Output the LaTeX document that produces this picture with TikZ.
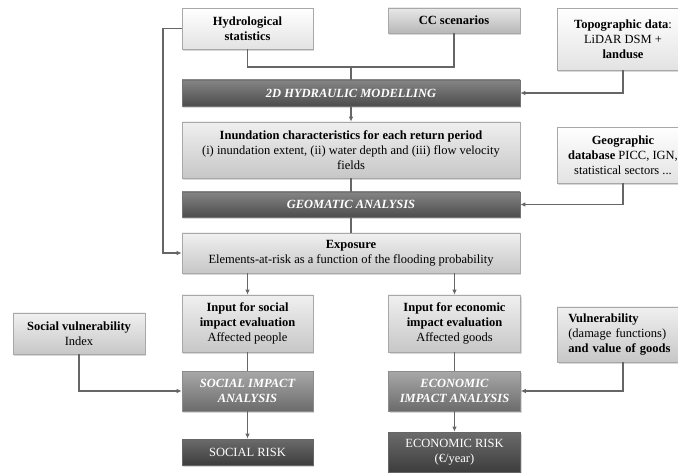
\documentclass[tikz,border=0pt]{standalone}
\usepackage{fontspec}
\setmainfont{Liberation Serif}
\usetikzlibrary{shadows,arrows.meta}
\definecolor{linec}{HTML}{666666}
\definecolor{bord}{HTML}{A8A8A8}
\begin{document}
\begin{tikzpicture}[x=1pt,y=-1pt,
  base/.style={draw=bord, line width=0.6pt, inner sep=2pt, align=center,
    font=\fontsize{12.5}{15}\selectfont,
    drop shadow={shadow xshift=1.2pt, shadow yshift=-1.6pt, opacity=0.3}},
  lightbox/.style={base, top color=white, bottom color=black!11},
  midbox/.style={base, top color=black!6, bottom color=black!22},
  ccbox/.style={base, top color=black!9, bottom color=black!28},
  darkbox/.style={base, draw=black!55, top color=black!48, bottom color=black!70, text=white, font=\fontsize{12.5}{15}\selectfont\bfseries\itshape},
  impbox/.style={base, draw=black!45, top color=black!34, bottom color=black!58, text=white, font=\fontsize{12.5}{15}\selectfont\bfseries\itshape},
  riskbox/.style={base, draw=black!60, top color=black!58, bottom color=black!76, text=white},
  conn/.style={draw=linec, line width=1.3pt},
  arr/.style={conn, -{Latex[length=5pt,width=4.5pt]}}
]
\clip (0,0) rectangle (678,473);
\fill[white] (0,0) rectangle (678,473);

% top row
\node[lightbox, minimum width=131pt, minimum height=41pt] (hydro) at (247.5,28.5) {\textbf{Hydrological}\\\textbf{statistics}};
\node[ccbox, minimum width=132pt, minimum height=25pt] (cc) at (454,20.5) {\textbf{CC scenarios}};
\node[lightbox, minimum width=132pt, minimum height=62pt] (topo) at (623,39) {\textbf{Topographic data}:\\LiDAR DSM +\\\textbf{landuse}};

% main column
\node[darkbox, minimum width=338pt, minimum height=26pt] (hyd) at (351,93) {2D HYDRAULIC MODELLING};
\node[midbox, minimum width=338pt, minimum height=56pt] (inund) at (351,150) {\textbf{Inundation characteristics for each return period}\\(i) inundation extent, (ii) water depth and (iii) flow velocity\\fields};
\node[lightbox, minimum width=132pt, minimum height=56pt] (geo) at (623,155) {\textbf{Geographic}\\\textbf{database} PICC, IGN,\\statistical sectors ...};
\node[darkbox, minimum width=338pt, minimum height=25pt] (geom) at (351,204.5) {GEOMATIC ANALYSIS};
\node[midbox, minimum width=338pt, minimum height=40pt] (expo) at (351,253) {\textbf{Exposure}\\Elements-at-risk as a function of the flooding probability};

% lower part
\node[midbox, minimum width=131pt, minimum height=57pt] (sin) at (247.5,323.5) {\textbf{Input for social}\\\textbf{impact evaluation}\\Affected people};
\node[midbox, minimum width=132pt, minimum height=57pt] (ein) at (454.5,323.5) {\textbf{Input for economic}\\\textbf{impact evaluation}\\Affected goods};
\node[midbox, minimum width=132pt, minimum height=41pt] (svul) at (79,333.5) {\textbf{Social vulnerability}\\Index};
\node[midbox, anchor=west, inner xsep=11pt, text width=110pt, align=left, minimum height=55pt] (vul) at (557,334.5) {\textbf{Vulnerability}\\(damage functions)\\\textbf{and value of goods}};
\node[impbox, minimum width=131pt, minimum height=40pt] (sia) at (247.5,391) {SOCIAL IMPACT\\ANALYSIS};
\node[impbox, minimum width=132pt, minimum height=40pt] (eia) at (454.5,391) {ECONOMIC\\IMPACT ANALYSIS};
\node[riskbox, minimum width=131pt, minimum height=26pt] (sr) at (247.5,452) {SOCIAL RISK};
\node[riskbox, minimum width=132pt, minimum height=40pt] (er) at (454.5,452) {ECONOMIC RISK\\(€/year)};

% connectors
\coordinate (j) at (351,67);
\coordinate (lx) at (163,28.5);
\draw[conn] (hydro.south) |- (j) -| (cc.south);
\draw[conn] (j) -- (hyd.north);
\draw[arr] (topo.south -| 623,0) |- (hyd.east);
\draw[arr] (hyd) -- (inund);
\draw[conn] (inund) -- (geom);
\draw[conn] (geom) -- (expo);
\draw[arr] (geo.south) |- (geom.east);
\draw[arr] (hydro.west) -- (lx) |- (expo.west);
\draw[arr] (expo.south -| sin.north) -- (sin.north);
\draw[arr] (expo.south -| ein.north) -- (ein.north);
\draw[conn] (sin) -- (sia);
\draw[conn] (ein) -- (eia);
\draw[arr] (svul.south) |- (sia.west);
\draw[arr] (vul.south -| 623,0) |- (eia.east);
\draw[arr] (sia) -- (sr);
\draw[arr] (eia) -- (er);
\end{tikzpicture}
\end{document}
